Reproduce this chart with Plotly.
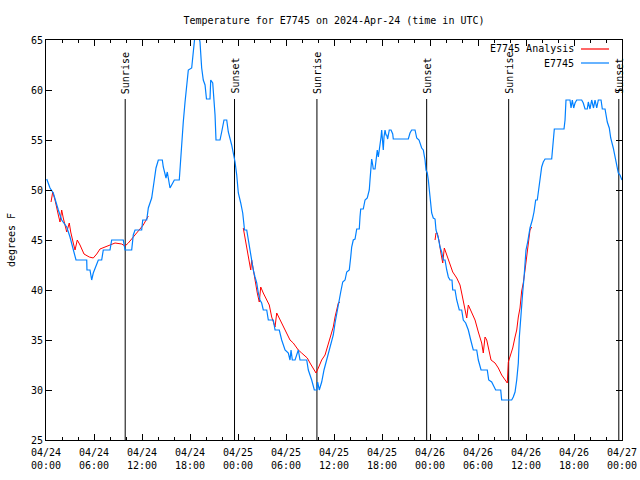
import pandas as pd
import plotly.graph_objects as go

BASE = pd.Timestamp("2024-04-24 00:00")

# Observed station temperature (hours since 04/24 00:00 UTC, degrees F)
obs_hours = [0.09, 0.5, 0.91, 1.13, 1.54, 1.96, 2.59, 3.0, 3.21, 3.41, 3.75, 5.09, 5.12, 5.5, 5.71, 5.91,
             6.54, 6.96, 7.16, 8.0, 8.21, 9.66, 9.88, 10.71, 10.91, 11.13, 11.96, 12.09, 12.59, 12.79,
             13.21, 13.5, 13.75, 14.04, 14.54, 14.66, 15.0, 15.16, 15.5, 15.91, 16.04, 16.66, 16.75,
             16.96, 17.16, 17.38, 17.79, 18.21, 18.5, 18.69, 18.96, 19.25, 19.46, 19.66, 19.88, 20.06,
             20.5, 20.59, 20.84, 21.13, 21.25, 21.75, 21.96, 22.25, 22.59, 22.79, 23.21, 23.63, 23.84,
             24.04, 24.34, 24.59, 24.75, 24.81, 25.09, 25.29, 25.5, 25.71, 25.91, 26.13, 26.34, 26.54,
             26.75, 26.96, 27.16, 27.59, 27.79, 28.41, 28.63, 29.16, 29.46, 29.88, 30.29, 30.5, 30.63,
             30.79, 31.13, 31.54, 31.75, 32.59, 32.79, 33.21, 33.54, 33.84, 33.96, 34.16, 34.46, 34.75,
             35.09, 35.5, 35.71, 35.91, 36.13, 36.34, 36.54, 36.84, 37.09, 37.38, 37.59, 37.91, 38.09,
             38.21, 38.41, 38.63, 38.84, 39.16, 39.25, 39.34, 39.66, 39.88, 40.16, 40.41, 40.5, 40.59,
             40.71, 40.84, 40.91, 41.13, 41.34, 41.41, 41.54, 41.75, 41.88, 41.96, 42.09, 42.16, 42.25,
             42.38, 42.5, 42.59, 42.71, 42.91, 43.13, 43.34, 43.41, 45.29, 45.5, 45.71, 46.13, 46.34,
             46.63, 46.75, 46.96, 47.16, 47.38, 47.5, 47.66, 47.79, 48.0, 48.21, 48.41, 48.63, 48.75,
             49.04, 49.25, 49.46, 49.66, 49.88, 50.09, 50.29, 50.5, 50.75, 50.84, 51.13, 51.34, 51.66,
             51.96, 52.16, 52.46, 52.79, 53.09, 53.41, 53.84, 54.04, 54.38, 55.16, 55.34, 55.71, 56.21,
             56.84, 56.96, 58.21, 58.41, 58.63, 58.84, 59.04, 59.16, 59.34, 59.59, 59.75, 59.88, 60.0,
             60.21, 60.5, 60.79, 61.0, 61.21, 61.41, 61.66, 61.84, 61.96, 62.16, 62.38, 63.21, 63.41,
             63.54, 64.75, 64.88, 65.0, 65.5, 65.63, 65.79, 65.96, 66.13, 66.34, 66.96, 67.16, 67.38,
             67.66, 67.79, 68.0, 68.21, 68.44, 68.63, 68.84, 69.04, 69.38, 69.54, 69.88, 70.0, 70.16,
             70.41, 70.59, 70.91, 71.13, 71.34, 71.54, 71.75, 72.0]
obs_temp = [51.1, 50.2, 49.7, 49, 48, 47, 46.3, 45.3, 44.7, 44.2, 43, 43, 42, 42, 41, 41.7,
            43, 43, 44, 44, 45, 45, 44, 44, 45.5, 46, 46, 47, 47, 48.2,
            49.2, 50.8, 52.2, 53, 53, 52.3, 51.2, 51.8, 50.2, 50.8, 51, 51, 52.2,
            54.8, 56.8, 58.8, 62, 62.2, 64.2, 66, 66, 64.8, 62.2, 61, 60.5, 59.1,
            59.1, 61, 60.7, 57.5, 55, 55, 55.8, 57, 57, 55.8, 54.5, 52.8, 51.5,
            49.7, 48.7, 47.7, 46.5, 46, 46, 45, 44, 43.2, 42, 41.3, 40.7, 39.7,
            39, 38.7, 38, 38, 37, 37, 36, 36, 35, 34, 33.7, 33, 34,
            33, 33, 34, 33, 33, 32, 31, 30, 30, 30.8, 30, 30.8, 32,
            33, 34.2, 35, 35.5, 36.7, 37.7, 38.7, 39.8, 40.8, 41, 41.8, 42, 43.3,
            44.3, 45, 45.1, 46.1, 46.1, 47.3, 48.1, 48.1, 49, 49.2, 50, 51, 52.3,
            53.1, 52.5, 52.1, 52.1, 53.7, 54, 53.3, 54.3, 55.3, 56, 54.7, 54, 55.3,
            56, 55.5, 55.5, 55.1, 56, 56, 55.6, 55.1, 55.1, 55.7, 56, 56, 55.2,
            55, 54.7, 54.2, 54, 53, 52, 51.7, 51, 49.3, 47.7, 47.2, 47.1, 46,
            45.2, 44.3, 43.8, 43, 43, 42, 41.3, 41, 41, 40, 40, 39, 38,
            38, 37, 36.7, 36, 35, 34, 34, 33, 32, 32, 31, 30.8, 30,
            30, 29, 29, 29.3, 29.8, 31, 32.7, 35.2, 37.5, 39.8, 41.2, 42.5, 44,
            44.8, 46.2, 47, 47.8, 49, 49, 50.5, 51.5, 52.3, 52.8, 53.1, 53.1, 55.2,
            56.1, 56.1, 57, 59, 59, 58.2, 59, 58.2, 58.7, 59, 59, 58.7, 58.1,
            58.1, 58.8, 58.1, 59, 58.2, 59, 58.2, 59, 59, 58.1, 58.1, 57.5, 56.8,
            56.2, 55.2, 54.2, 53.3, 52.5, 51.7, 51.5, 51]

# Analysis temperature (None = gap between analysis runs)
ana_hours = [0.63, 0.84, 1.13, 1.34, 1.54, 1.75, 1.96, 2.16, 2.38, 2.59, 2.91, 3.09, 3.41, 3.63, 3.91,
             4.25, 4.75, 5.41, 5.91, 6.34, 6.75, 7.38, 8.0, 8.63, 9.46, 9.88, 10.29, 11.13, 11.75,
             12.16, 12.79, 12.9,
             24.66, 25.09, 25.29, 25.59, 25.71, 25.91, 26.13, 26.41, 26.66, 26.84, 27.16, 27.59,
             27.91, 28.21, 28.63, 28.84, 29.25, 29.66, 30.09, 30.5, 30.91, 31.54, 31.96, 32.66,
             33.0, 33.34, 33.75, 34.04, 34.46, 34.88, 35.16, 35.5, 35.91, 36.13, 36.54, 36.75, 36.9,
             48.63, 48.75, 48.91, 49.16, 49.34, 49.59, 49.79, 50.09, 50.41, 50.84, 51.34, 51.75,
             51.96, 52.25, 52.59, 52.79, 53.21, 53.63, 54.04, 54.46, 54.66, 54.88, 55.09, 55.29,
             55.63, 56.13, 56.54, 56.96, 57.5, 57.66, 57.79, 58.0, 58.34, 58.63, 58.84, 59.04,
             59.25, 59.46, 59.66, 59.88, 60.09, 60.29, 60.5, 60.71]
ana_temp = [48.8, 49.8, 49, 48, 47.5, 46.8, 48, 47.2, 46.5, 45.8, 46.7, 45.8, 44.7, 44, 45,
            44.5, 43.6, 43.3, 43.2, 43.6, 44.1, 44.3, 44.5, 44.7, 44.6, 44.4, 44.7, 45.5, 46,
            46.5, 47.4, None,
            46.2, 44.3, 43.3, 42, 43, 42, 41, 39.7, 38.8, 40.3, 39.7, 39,
            38.5, 37.3, 36.3, 37.7, 37, 36.3, 35.7, 35, 34.7, 34, 33.7, 33.2,
            32.7, 32.2, 31.7, 32.2, 33, 33.5, 34.3, 35.3, 36.3, 37.3, 38.7, 38.8, None,
            45, 45.7, 45.7, 44.8, 43.8, 42.7, 44.2, 43.5, 42.8, 41.8, 41.2, 40.5,
            39.7, 38.7, 37.2, 38.5, 37.8, 37, 35.8, 34.7, 33.7, 35.3, 35, 34.2,
            33, 32.7, 32.2, 31.5, 30.8, 30.7, 32.8, 33.3, 34.2, 35.3, 36, 37.3,
            38.2, 39.9, 40.7, 42, 43.3, 44.8, 46, 46.3]

event_times = ["2024-04-24 09:54", "2024-04-24 23:34", "2024-04-25 09:52",
               "2024-04-25 23:35", "2024-04-26 09:50", "2024-04-26 23:36"]
event_labels = ["Sunrise", "Sunset", "Sunrise", "Sunset", "Sunrise", "Sunset"]
event_top = 59.1

obs_x = [BASE + pd.Timedelta(hours=h) for h in obs_hours]
ana_x = [BASE + pd.Timedelta(hours=h) for h in ana_hours]

FONT = "DejaVu Sans Mono"
W, H = 640, 480
fig = go.Figure()

for t in event_times:
    fig.add_trace(go.Scatter(x=[t, t], y=[25, event_top], mode="lines",
                             line=dict(color="black", width=1), showlegend=False, hoverinfo="skip"))

fig.add_trace(go.Scatter(x=ana_x, y=ana_temp, mode="lines", name="E7745 Analysis",
                         line=dict(color="#ff0000", width=1), connectgaps=False, showlegend=False))
fig.add_trace(go.Scatter(x=obs_x, y=obs_temp, mode="lines", name="E7745",
                         line=dict(color="#0080ff", width=1.2), showlegend=False))

for t, lab in zip(event_times, event_labels):
    fig.add_annotation(x=t, y=event_top, xref="x", yref="y", text=lab, textangle=-90,
                       showarrow=False, yanchor="bottom", xanchor="center", yshift=3,
                       font=dict(family=FONT, size=10, color="black"))

# manual gnuplot-style key (text right, sample to its right)
for i, (name, col) in enumerate([("E7745 Analysis", "#ff0000"), ("E7745", "#0080ff")]):
    ypx = 49 + 14 * i
    yp = 1 - (ypx - 40) / 400
    fig.add_annotation(x=(576 - 46) / 576, y=yp, xref="paper", yref="paper", text=name,
                       showarrow=False, xanchor="right", yanchor="middle",
                       font=dict(family=FONT, size=10, color="black"))
    fig.add_shape(type="line", xref="paper", yref="paper",
                  x0=(581 - 46) / 576, x1=(609 - 46) / 576, y0=yp, y1=yp,
                  line=dict(color=col, width=1.2))

fig.update_layout(
    width=W, height=H,
    margin=dict(l=46, r=18, t=40, b=40, autoexpand=False),
    paper_bgcolor="white", plot_bgcolor="white",
    title=dict(text="Temperature for E7745 on 2024-Apr-24 (time in UTC)", x=334 / W,
               xanchor="center", y=1 - 20 / H, yanchor="middle",
               font=dict(family=FONT, size=10, color="black")),
    font=dict(family=FONT, size=10, color="black"),
    showlegend=False,
)
fig.update_xaxes(
    range=["2024-04-24 00:00", "2024-04-27 00:00"], type="date", automargin=False,
    dtick=6 * 3600 * 1000, tick0="2024-04-24 00:00", tickformat="%m/%d<br>%H:%M",
    ticks="inside", ticklen=6, tickcolor="black", mirror="ticks", ticklabelstandoff=3,
    showline=True, linecolor="black", linewidth=1, showgrid=False, zeroline=False,
    minor=dict(dtick=2 * 3600 * 1000, ticks="inside", ticklen=3, tickcolor="black", showgrid=False),
    tickfont=dict(family=FONT, size=10, color="black"),
)
fig.update_yaxes(
    range=[25, 65], dtick=5, ticks="inside", ticklen=6, tickcolor="black", mirror="ticks",
    showline=True, linecolor="black", linewidth=1, showgrid=False, zeroline=False, automargin=False,
    title=dict(text="degrees F", font=dict(family=FONT, size=10, color="black"), standoff=13),
    tickfont=dict(family=FONT, size=10, color="black"),
)

fig.write_html("out.html", config={"displayModeBar": False},
               post_script="document.body.style.margin='0';document.body.style.overflow='hidden';")
